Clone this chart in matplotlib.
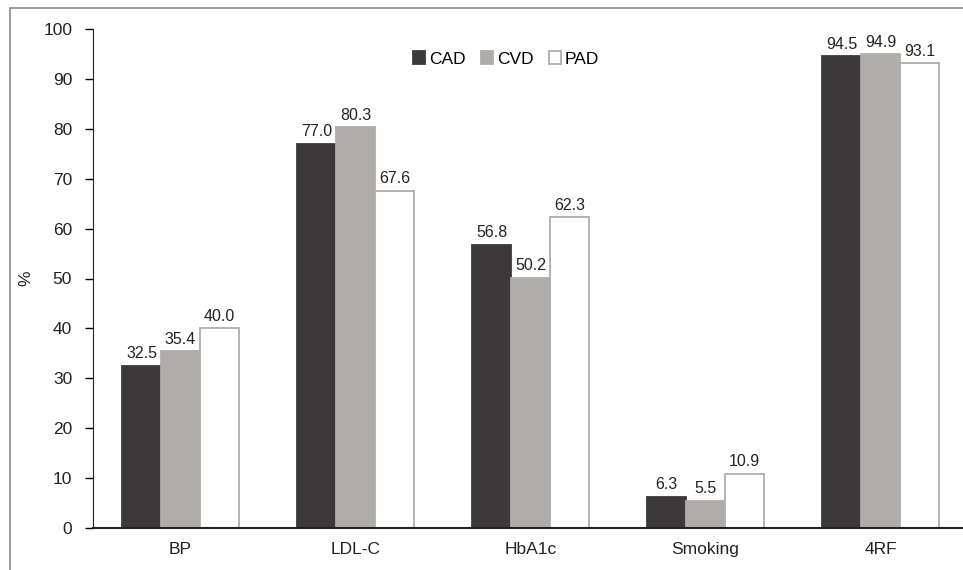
import matplotlib
matplotlib.use("Agg")
import matplotlib.pyplot as plt
import numpy as np
from matplotlib.patches import Rectangle

plt.rcParams['font.family'] = ['Liberation Sans', 'DejaVu Sans']

categories = ["BP", "LDL-C", "HbA1c", "Smoking", "4RF"]
series_names = ["CAD", "CVD", "PAD"]
cad = [32.5, 77.0, 56.8, 6.3, 94.5]
cvd = [35.4, 80.3, 50.2, 5.5, 94.9]
pad = [40.0, 67.6, 62.3, 10.9, 93.1]
yticks = list(range(0, 101, 10))

W, H = 963, 570
fig = plt.figure(figsize=(W / 100, H / 100), dpi=100)
# outer frame
fig.patches.append(Rectangle((10 / W, -0.1), 1.2, (H - 8) / H + 0.1, transform=fig.transFigure,
                             fill=False, edgecolor='#8a8a8a', linewidth=1.2))

ax = fig.add_axes([93 / W, 1 - 528 / H, 875 / W, 499 / H])
x = np.arange(len(categories))
bw = 0.222
facecolors = ['#3b393a', '#b0acaa', 'white']
edgecolors = ['#3b393a', '#b0acaa', '#b0acaa']
data = [cad, cvd, pad]
for i, (vals, fc, ec, name) in enumerate(zip(data, facecolors, edgecolors, series_names)):
    pos = x + (i - 1) * bw
    ax.bar(pos, vals, width=bw, color=fc, edgecolor=ec, linewidth=1.3, label=name, zorder=2)
    for p, v in zip(pos, vals):
        ax.text(p, v + 0.9, f"{v:.1f}", ha='center', va='bottom', fontsize=11.5, color='#222222')

ax.set_xlim(-0.5, len(categories) - 0.5)
ax.set_ylim(0, 100)
ax.set_yticks(yticks)
ax.set_xticks(x)
ax.set_xticklabels(categories, fontsize=12.5, color='#222222')
ax.tick_params(axis='x', length=0, pad=10)
ax.tick_params(axis='y', length=6, width=1, direction='out', labelsize=12.5, labelcolor='#222222', pad=9)
for s in ['top', 'right']:
    ax.spines[s].set_visible(False)
ax.spines['left'].set_color('#222222')
ax.spines['bottom'].set_color('#222222')
ax.spines['bottom'].set_linewidth(1.5)
ax.set_ylabel('%', fontsize=12.5, color='#222222')
ax.yaxis.set_label_coords((33 - 93) / 875, 0.5)

leg = ax.legend(loc='center', bbox_to_anchor=(0.472, 0.94), ncol=3, frameon=False,
                fontsize=12.5, handlelength=0.7, handleheight=0.7, handletextpad=0.2,
                columnspacing=0.9, borderaxespad=0)

fig.savefig('out.png', dpi=100)
